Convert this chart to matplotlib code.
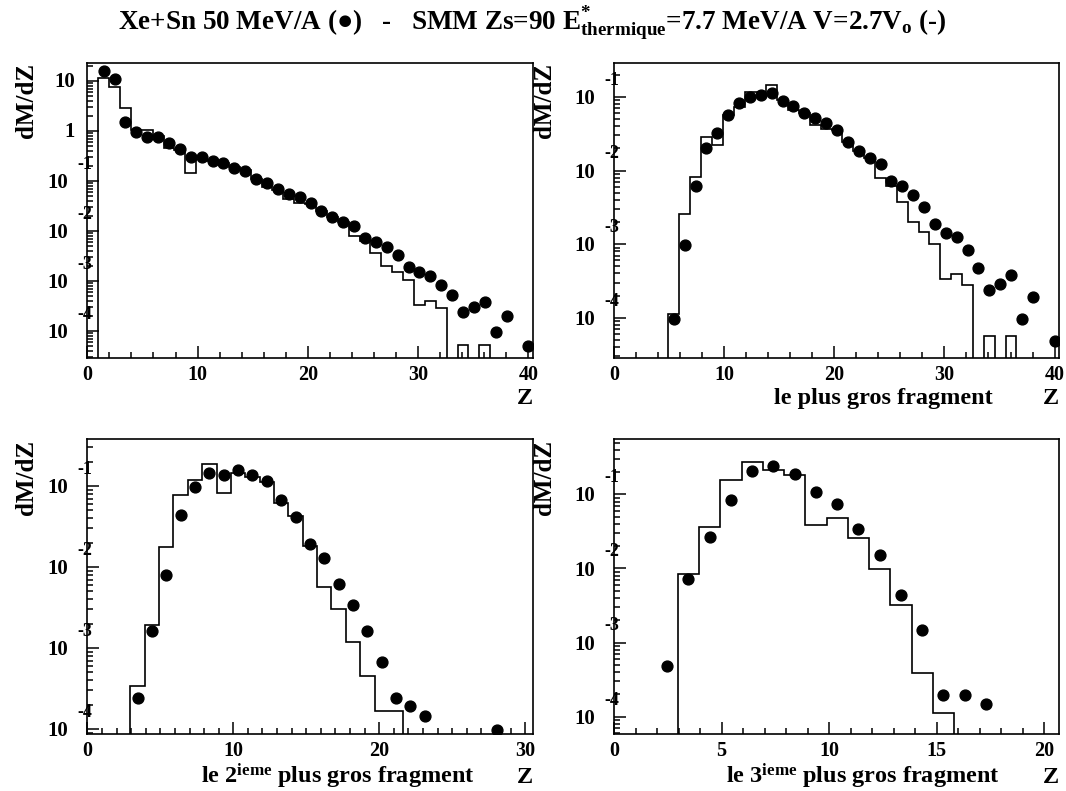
import numpy as np
import matplotlib
matplotlib.use("Agg")
from matplotlib import pyplot as plt
from matplotlib.ticker import MultipleLocator, LogLocator, NullFormatter

plt.rcParams['font.family'] = ['Liberation Serif', 'DejaVu Serif']
plt.rcParams['font.weight'] = 'bold'
plt.rcParams['mathtext.fontset'] = 'custom'
plt.rcParams['mathtext.rm'] = 'Liberation Serif:bold'
plt.rcParams['mathtext.it'] = 'Liberation Serif:bold'
plt.rcParams['mathtext.bf'] = 'Liberation Serif:bold'

# --- data (Z = charge, values = dM/dZ) ---
# all fragments
z_all = list(range(1, 39)) + [40]
exp_all = [16.1, 11.1, 1.54, 0.94, 0.76, 0.77, 0.57, 0.43, 0.30, 0.30,
           0.255, 0.233, 0.18, 0.156, 0.108, 0.090, 0.068, 0.056, 0.047, 0.037,
           0.025, 0.019, 0.0154, 0.0126, 0.0074, 0.0061, 0.0047, 0.0034, 0.00194, 0.00149,
           0.00128, 0.00083, 0.00052, 0.000244, 0.000297, 0.000386, 0.000097, 0.0002, 0.00005]
smm_all_first = 1
smm_all = [11.7, 7.5, 2.84, 1.05, 1.05, 0.78, 0.45, 0.42, 0.147, 0.30,
           0.25, 0.23, 0.19, 0.17, 0.11, 0.077, 0.065, 0.043, 0.037, 0.035,
           0.025, 0.019, 0.0155, 0.0079, 0.0063, 0.0037, 0.002, 0.0015, 0.00105, 0.00034,
           0.0004, 0.00029, 0, 0.000054, 0, 0.000054]

# largest fragment
z_big1 = list(range(5, 39)) + [40]
exp_big1 = [9.7e-5, 9.6e-4, 0.0062, 0.020, 0.032, 0.057, 0.083, 0.10, 0.105, 0.113,
            0.087, 0.076, 0.061, 0.052, 0.044, 0.036, 0.0245, 0.0185, 0.0150, 0.0123,
            0.0072, 0.0061, 0.0046, 0.0032, 0.0019, 0.0014, 0.00126, 0.00083, 0.00048, 0.00024,
            0.00029, 0.00038, 9.7e-5, 0.00019, 4.8e-5]
smm_big1_first = 5
smm_big1 = [1.12e-4, 0.00256, 0.0081, 0.0286, 0.022, 0.056, 0.073, 0.117, 0.117, 0.147,
            0.090, 0.066, 0.061, 0.041, 0.037, 0.036, 0.0245, 0.0185, 0.015, 0.0078,
            0.0061, 0.0037, 0.0020, 0.00145, 0.0010, 0.00034, 0.00039, 0.00028, 0, 5.6e-5,
            0, 5.6e-5]

# 2nd largest fragment
z_big2 = list(range(3, 24)) + [28]
exp_big2 = [2.43e-4, 0.00162, 0.0080, 0.0438, 0.097, 0.145, 0.138, 0.159, 0.135, 0.114,
            0.068, 0.042, 0.0192, 0.0129, 0.0062, 0.0034, 0.00164, 6.8e-4, 2.43e-4, 1.94e-4,
            1.46e-4, 9.7e-5]
smm_big2_first = 3
smm_big2 = [3.4e-4, 0.0019, 0.0178, 0.077, 0.119, 0.188, 0.081, 0.144, 0.128, 0.111,
            0.061, 0.043, 0.018, 0.0056, 0.0030, 0.00118, 4.5e-4, 1.67e-4, 1.67e-4]

# 3rd largest fragment
z_big3 = list(range(2, 18))
exp_big3 = [4.86e-4, 0.0072, 0.0263, 0.083, 0.208, 0.243, 0.19, 0.108, 0.073, 0.034,
            0.0153, 0.0044, 0.00146, 1.95e-4, 1.95e-4, 1.48e-4]
smm_big3_first = 3
smm_big3 = [0.0084, 0.0366, 0.156, 0.275, 0.213, 0.18, 0.039, 0.048, 0.0257, 0.0098,
            0.00318, 3.9e-4, 1.13e-4]

fig = plt.figure(figsize=(10.66, 7.91), dpi=100)


def panel(rect, xlim, ylim, xmajor, xminor, w, z, y, first, smm, plain=()):
    ax = fig.add_axes(rect)
    edges = (np.arange(len(smm) + 1) + first) * w
    vals = np.array(smm, dtype=float)
    vals[vals <= 0] = 1e-12
    ax.stairs(vals, edges, baseline=1e-12, color='black', lw=1.2)
    ax.plot((np.array(z) + 0.5) * w, y, 'o', color='black', ms=7.8, ls='none')
    ax.set_yscale('log')
    ax.set_xlim(*xlim)
    ax.set_ylim(*ylim)
    ax.xaxis.set_major_locator(MultipleLocator(xmajor))
    ax.xaxis.set_minor_locator(MultipleLocator(xminor))
    ax.yaxis.set_major_locator(LogLocator(base=10))
    ax.yaxis.set_minor_locator(LogLocator(base=10, subs=np.arange(2, 10)))
    ax.yaxis.set_minor_formatter(NullFormatter())
    ax.tick_params(which='both', direction='in', top=False, right=False,
                   labelleft=False, width=1.1)
    ax.tick_params(which='major', length=8.5)
    ax.tick_params(which='minor', length=4)
    ax.tick_params(axis='x', labelsize=14.5, pad=5)
    for s in ax.spines.values():
        s.set_linewidth(1.2)
    k0 = int(np.ceil(np.log10(ylim[0])))
    k1 = int(np.floor(np.log10(ylim[1])))
    for k in range(k0, k1 + 1):
        v = 10.0 ** k
        if k in plain:
            ax.annotate('1' if k == 0 else '10', (0, v), xycoords=('axes fraction', 'data'),
                        xytext=(-9, -1), textcoords='offset points',
                        ha='right', va='center', fontsize=15)
        else:
            ax.annotate('10', (0, v), xycoords=('axes fraction', 'data'),
                        xytext=(-13.5, -1.5), textcoords='offset points',
                        ha='right', va='center', fontsize=15)
            ax.annotate('-' + str(-k), (0, v), xycoords=('axes fraction', 'data'),
                        xytext=(-7, 12), textcoords='offset points',
                        ha='left', va='center', fontsize=13)
    return ax


w80 = 80 / 81
w60 = 60 / 61
top_row = [0.5474, 0.3730]
bot_row = [0.0717, 0.3729]

panel([0.0819, top_row[0], 0.4184, top_row[1]], (0, 40.45), (2.9e-5, 23), 10, 2,
      w80, z_all, exp_all, smm_all_first, smm_all, plain=(0, 1))
panel([0.576, top_row[0], 0.4174, top_row[1]], (0, 40.4), (2.84e-5, 0.289), 10, 2,
      w80, z_big1, exp_big1, smm_big1_first, smm_big1)
panel([0.0819, bot_row[0], 0.4184, bot_row[1]], (0, 30.55), (8.6e-5, 0.377), 10, 1,
      w60, z_big2, exp_big2, smm_big2_first, smm_big2)
panel([0.576, bot_row[0], 0.4174, bot_row[1]], (0, 20.68), (5.8e-5, 0.552), 5, 1,
      w80, z_big3, exp_big3, smm_big3_first, smm_big3)

# y labels
for x, yt in [(0.0253, 0.920), (0.511, 0.920), (0.0253, 0.4437), (0.511, 0.4437)]:
    fig.text(x, yt, 'dM/dZ', rotation=90, ha='center', va='top', fontsize=18)

# x labels
for xr, yb in [(0.5003, 0.4893), (0.9934, 0.4893), (0.5003, 0.010), (0.9934, 0.010)]:
    fig.text(xr, yb, 'Z', ha='right', va='baseline', fontsize=17.5)
fig.text(0.9315, 0.4893, 'le plus gros fragment', ha='right', va='baseline', fontsize=17.5)
fig.text(0.4456, 0.010, r'le 2$^{\mathrm{ieme}}$ plus gros fragment', ha='right',
         va='baseline', fontsize=17.5)
fig.text(0.938, 0.010, r'le 3$^{\mathrm{ieme}}$ plus gros fragment', ha='right',
         va='baseline', fontsize=17.5)

fig.text(0.4995, 0.971,
         r'Xe+Sn 50 MeV/A (●)   -   SMM Zs=90 $\mathrm{E}^{*}_{\mathrm{thermique}}$=7.7 MeV/A V=2.7$\mathrm{V}_{\mathrm{o}}$ (-)',
         ha='center', va='center', fontsize=19.5)

fig.savefig('out.png', dpi=100)
